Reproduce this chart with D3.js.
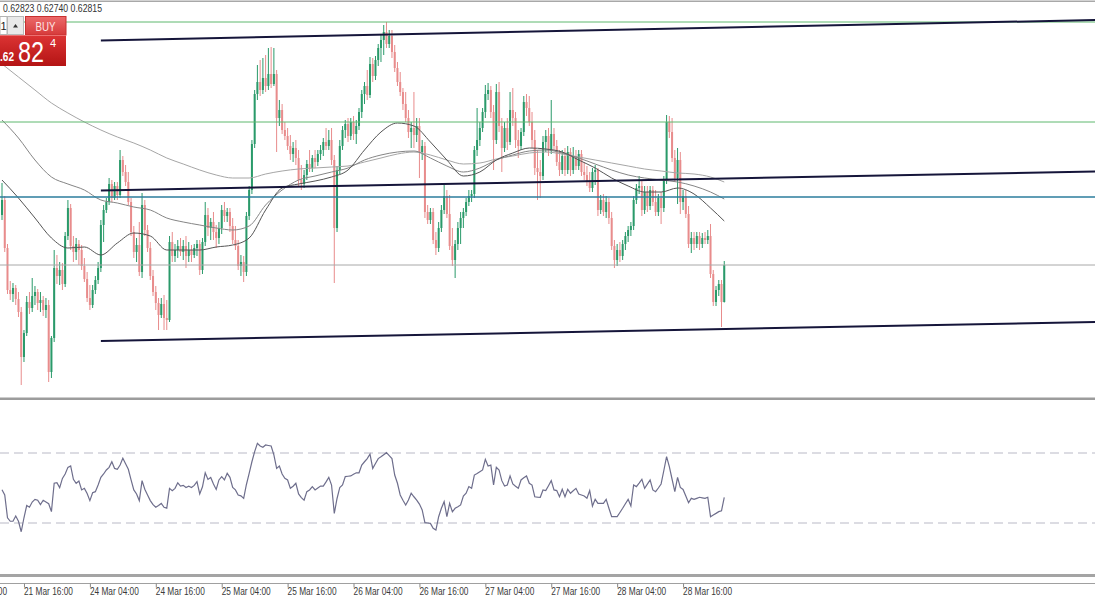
<!DOCTYPE html>
<html><head><meta charset="utf-8">
<script src="https://cdn.jsdelivr.net/npm/d3@7"></script>
<style>html,body{margin:0;padding:0;background:#fff;overflow:hidden}svg{display:block;font-family:"Liberation Sans",Arial,sans-serif}</style>
</head><body>
<svg id="chart" width="1095" height="600"></svg>
<script>
// ---------------- DATA (AUDUSD M30) ----------------
const candleOpen = [
0.62915,0.62945,0.62849,0.62765,0.62757,0.62769,0.62747,0.62721,0.62631,0.62679,0.62741,0.62729,
0.62753,0.62761,0.62739,0.62745,0.62725,0.62735,0.62601,0.62669,0.62809,0.62793,0.62805,0.62777,
0.62873,0.62929,0.62853,0.62841,0.62857,0.62845,0.62813,0.62787,0.62749,0.62735,0.62765,0.62785,
0.62809,0.62895,0.62925,0.62941,0.62977,0.62949,0.62973,0.62955,0.63025,0.63001,0.62981,0.62941,
0.62881,0.62841,0.62855,0.62801,0.62935,0.62885,0.62849,0.62793,0.62761,0.62739,0.62715,0.62737,
0.62709,0.62705,0.62861,0.62833,0.62845,0.62853,0.62841,0.62853,0.62833,0.62845,0.62835,0.62849,
0.62857,0.62805,0.62861,0.62915,0.62889,0.62901,0.62881,0.62869,0.62889,0.62925,0.62913,0.62921,
0.62893,0.62865,0.62853,0.62813,0.62821,0.62801,0.62913,0.62965,0.63057,0.63157,0.63181,0.63165,
0.63189,0.63173,0.63197,0.63177,0.63197,0.63109,0.63125,0.63085,0.63073,0.63053,0.63037,0.63049,
0.63029,0.62985,0.62977,0.62995,0.63017,0.63009,0.63029,0.63021,0.63037,0.63045,0.63061,0.63053,
0.63065,0.63025,0.62889,0.63005,0.63053,0.63085,0.63097,0.63073,0.63101,0.63077,0.63093,0.63121,
0.63157,0.63173,0.63155,0.63217,0.63193,0.63225,0.63249,0.63265,0.63281,0.63257,0.63273,0.63241,
0.63209,0.63181,0.63161,0.63137,0.63109,0.63081,0.63089,0.63075,0.63093,0.63041,0.63053,0.62921,
0.62905,0.62921,0.62865,0.62849,0.62889,0.62925,0.62953,0.62917,0.62853,0.62825,0.62857,0.62889,
0.62909,0.62921,0.62941,0.62953,0.62957,0.63045,0.63065,0.63089,0.63121,0.63157,0.63165,0.63121,
0.63065,0.63161,0.63093,0.63049,0.63089,0.63061,0.63125,0.63109,0.63065,0.63053,0.63081,0.63141,
0.63129,0.63101,0.63065,0.63009,0.63001,0.62993,0.63061,0.63073,0.63045,0.63077,0.63053,0.63021,
0.63005,0.63033,0.63005,0.63041,0.63005,0.63033,0.63013,0.63037,0.63001,0.62995,0.62981,0.62969,
0.63001,0.63005,0.62925,0.62945,0.62921,0.62941,0.62909,0.62853,0.62825,0.62845,0.62833,0.62857,
0.62873,0.62885,0.62893,0.62945,0.62969,0.62973,0.62925,0.62961,0.62933,0.62965,0.62941,0.62921,
0.62949,0.62929,0.62985,0.63101,0.63081,0.63029,0.62989,0.63025,0.62941,0.62953,0.62917,0.62857,
0.62869,0.62857,0.62873,0.62857,0.62869,0.62865,0.62873,0.62797,0.62741,0.62765,0.62777,0.62741];
const candleHigh = [
0.62979,0.62953,0.62857,0.62783,0.62779,0.62775,0.62761,0.62731,0.62685,0.62753,0.62761,0.62789,
0.62773,0.62767,0.62761,0.62753,0.62749,0.62745,0.62673,0.62845,0.62835,0.62821,0.62819,0.62881,
0.62945,0.62937,0.62873,0.62869,0.62865,0.62855,0.62829,0.62801,0.62775,0.62775,0.62793,0.62821,
0.62905,0.62935,0.62949,0.62989,0.62985,0.62981,0.62981,0.63045,0.63033,0.63015,0.63001,0.62949,
0.62893,0.62869,0.62901,0.62959,0.62945,0.62895,0.62861,0.62805,0.62773,0.62749,0.62749,0.62755,
0.62745,0.62873,0.62881,0.62857,0.62865,0.62869,0.62865,0.62873,0.62861,0.62855,0.62857,0.62865,
0.62865,0.62869,0.62941,0.62929,0.62909,0.62921,0.62895,0.62901,0.62935,0.62941,0.62929,0.62929,
0.62909,0.62893,0.62865,0.62835,0.62833,0.62921,0.62973,0.63065,0.63165,0.63215,0.63225,0.63229,
0.63235,0.63249,0.63251,0.63249,0.63205,0.63145,0.63137,0.63101,0.63089,0.63075,0.63061,0.63065,
0.63045,0.63015,0.63005,0.63025,0.63045,0.63035,0.63045,0.63045,0.63055,0.63069,0.63089,0.63085,
0.63089,0.63035,0.63013,0.63065,0.63093,0.63105,0.63109,0.63109,0.63113,0.63105,0.63129,0.63165,
0.63181,0.63205,0.63231,0.63229,0.63233,0.63257,0.63277,0.63295,0.63301,0.63285,0.63285,0.63255,
0.63221,0.63201,0.63169,0.63161,0.63125,0.63101,0.63161,0.63109,0.63109,0.63065,0.63061,0.62935,
0.62929,0.62929,0.62881,0.62901,0.62935,0.62975,0.62965,0.62955,0.62889,0.62865,0.62901,0.62921,
0.62929,0.62949,0.62965,0.62965,0.63053,0.63129,0.63101,0.63129,0.63175,0.63179,0.63173,0.63135,
0.63177,0.63181,0.63109,0.63101,0.63109,0.63161,0.63169,0.63121,0.63085,0.63089,0.63153,0.63157,
0.63153,0.63121,0.63085,0.63045,0.63025,0.63073,0.63085,0.63089,0.63145,0.63089,0.63065,0.63045,
0.63045,0.63049,0.63053,0.63049,0.63051,0.63045,0.63045,0.63045,0.63021,0.63013,0.63001,0.63009,
0.63015,0.63009,0.62955,0.62957,0.62953,0.62949,0.62921,0.62865,0.62857,0.62861,0.62865,0.62881,
0.62893,0.62901,0.62953,0.62977,0.62993,0.62985,0.62973,0.62973,0.62973,0.62973,0.62965,0.62957,
0.62961,0.62993,0.63115,0.63113,0.63109,0.63045,0.63049,0.63041,0.62965,0.62965,0.62933,0.62881,
0.62881,0.62881,0.62881,0.62879,0.62881,0.62885,0.62897,0.62805,0.62773,0.62785,0.62785,0.62823];
const candleLow = [
0.62905,0.62841,0.62757,0.62745,0.62741,0.62735,0.62711,0.62575,0.62621,0.62673,0.62717,0.62721,
0.62735,0.62725,0.62721,0.62713,0.62709,0.62581,0.62589,0.62661,0.62777,0.62775,0.62765,0.62771,
0.62865,0.62845,0.62821,0.62825,0.62815,0.62805,0.62781,0.62741,0.62725,0.62729,0.62757,0.62777,
0.62801,0.62861,0.62919,0.62935,0.62941,0.62945,0.62945,0.62949,0.62993,0.62973,0.62935,0.62873,
0.62829,0.62821,0.62793,0.62789,0.62873,0.62841,0.62785,0.62753,0.62725,0.62685,0.62709,0.62685,
0.62685,0.62701,0.62821,0.62821,0.62829,0.62833,0.62825,0.62809,0.62821,0.62821,0.62829,0.62833,
0.62795,0.62797,0.62853,0.62873,0.62865,0.62865,0.62849,0.62857,0.62877,0.62901,0.62901,0.62881,
0.62857,0.62845,0.62805,0.62793,0.62781,0.62793,0.62905,0.62957,0.63049,0.63145,0.63153,0.63157,
0.63161,0.63165,0.63169,0.63173,0.63041,0.63093,0.63077,0.63065,0.63045,0.63025,0.63021,0.63015,
0.62973,0.62965,0.62969,0.62985,0.63001,0.63001,0.63009,0.63013,0.63025,0.63033,0.63045,0.63045,
0.63015,0.62779,0.62881,0.62997,0.63045,0.63069,0.63061,0.63065,0.63065,0.63057,0.63085,0.63109,
0.63137,0.63145,0.63149,0.63181,0.63185,0.63213,0.63221,0.63235,0.63249,0.63249,0.63229,0.63201,
0.63173,0.63153,0.63125,0.63101,0.63069,0.63049,0.63049,0.63061,0.62989,0.63025,0.62909,0.62897,
0.62897,0.62857,0.62835,0.62841,0.62881,0.62917,0.62909,0.62845,0.62813,0.62789,0.62845,0.62857,
0.62889,0.62913,0.62933,0.62941,0.62949,0.63033,0.63053,0.63081,0.63109,0.63145,0.63109,0.63005,
0.63057,0.63081,0.63001,0.63041,0.63045,0.63055,0.63093,0.63049,0.63029,0.63045,0.63073,0.63113,
0.63093,0.63049,0.62995,0.62945,0.62949,0.62985,0.63041,0.63033,0.63037,0.63045,0.63013,0.62993,
0.62997,0.62993,0.62997,0.62993,0.62997,0.63005,0.63005,0.62993,0.62985,0.62973,0.62961,0.62961,
0.62975,0.62913,0.62917,0.62913,0.62909,0.62897,0.62845,0.62809,0.62813,0.62821,0.62825,0.62845,
0.62861,0.62873,0.62885,0.62937,0.62957,0.62913,0.62917,0.62921,0.62925,0.62933,0.62913,0.62913,
0.62897,0.62921,0.62977,0.63069,0.63021,0.62981,0.62937,0.62917,0.62925,0.62909,0.62849,0.62839,
0.62845,0.62849,0.62845,0.62849,0.62857,0.62857,0.62789,0.62733,0.62733,0.62753,0.62691,0.62740];
const candleClose = [
0.62945,0.62849,0.62765,0.62757,0.62769,0.62747,0.62721,0.62631,0.62679,0.62741,0.62729,0.62753,
0.62761,0.62739,0.62745,0.62725,0.62735,0.62601,0.62669,0.62809,0.62793,0.62805,0.62777,0.62873,
0.62929,0.62853,0.62841,0.62857,0.62845,0.62813,0.62787,0.62749,0.62735,0.62765,0.62785,0.62809,
0.62895,0.62925,0.62941,0.62977,0.62949,0.62973,0.62955,0.63025,0.63001,0.62981,0.62941,0.62881,
0.62841,0.62855,0.62801,0.62935,0.62885,0.62849,0.62793,0.62761,0.62739,0.62715,0.62737,0.62709,
0.62705,0.62861,0.62833,0.62845,0.62853,0.62841,0.62853,0.62833,0.62845,0.62835,0.62849,0.62857,
0.62805,0.62861,0.62915,0.62889,0.62901,0.62881,0.62869,0.62889,0.62925,0.62913,0.62921,0.62893,
0.62865,0.62853,0.62813,0.62821,0.62801,0.62913,0.62965,0.63057,0.63157,0.63181,0.63165,0.63189,
0.63173,0.63197,0.63177,0.63197,0.63109,0.63125,0.63085,0.63073,0.63053,0.63037,0.63049,0.63029,
0.62985,0.62977,0.62995,0.63017,0.63009,0.63029,0.63021,0.63037,0.63045,0.63061,0.63053,0.63065,
0.63025,0.62889,0.63005,0.63053,0.63085,0.63097,0.63073,0.63101,0.63077,0.63093,0.63121,0.63157,
0.63173,0.63155,0.63217,0.63193,0.63225,0.63249,0.63265,0.63281,0.63257,0.63273,0.63241,0.63209,
0.63181,0.63161,0.63137,0.63109,0.63081,0.63089,0.63075,0.63093,0.63041,0.63053,0.62921,0.62905,
0.62921,0.62865,0.62849,0.62889,0.62925,0.62953,0.62917,0.62853,0.62825,0.62857,0.62889,0.62909,
0.62921,0.62941,0.62953,0.62957,0.63045,0.63065,0.63089,0.63121,0.63157,0.63165,0.63121,0.63065,
0.63161,0.63093,0.63049,0.63089,0.63061,0.63125,0.63109,0.63065,0.63053,0.63081,0.63141,0.63129,
0.63101,0.63065,0.63009,0.63001,0.62993,0.63061,0.63073,0.63045,0.63077,0.63053,0.63021,0.63005,
0.63033,0.63005,0.63041,0.63005,0.63033,0.63013,0.63037,0.63001,0.62995,0.62981,0.62969,0.63001,
0.63005,0.62925,0.62945,0.62921,0.62941,0.62909,0.62853,0.62825,0.62845,0.62833,0.62857,0.62873,
0.62885,0.62893,0.62945,0.62969,0.62973,0.62925,0.62961,0.62933,0.62965,0.62941,0.62921,0.62949,
0.62929,0.62985,0.63101,0.63081,0.63029,0.62989,0.63025,0.62941,0.62953,0.62917,0.62857,0.62869,
0.62857,0.62873,0.62857,0.62869,0.62865,0.62873,0.62797,0.62741,0.62765,0.62777,0.62741,0.62815];

const rsiValues = [
49,46,33,31,31,34,31,25,33,40,39,42,
43.5,43,40.5,43,42,41,36.5,52.7,53,50.2,55.5,58,
61.8,62.6,55,52.7,54,48.9,49.8,46.9,42.8,47.3,47.9,51.7,
56.1,58,60.3,61.8,65,61.2,60.7,63.1,67,63.8,60.7,54.6,
48.9,46.6,42.8,54.2,49.3,46,42.8,40.5,39,40,41.2,39,
38.5,49.8,48.5,49.8,53,51.1,51.5,50.3,51,50.3,51.5,53.6,
46.6,50.7,58.7,54.9,56,52.3,49.2,54.6,56.5,54.6,58.4,56.1,
50.3,48.9,46,45.5,44.1,52,58.4,65,70.8,75.5,74,73.3,
74.6,74.3,74,68.9,61.2,62.6,58,55.5,54.6,49.8,51,52.7,
46.6,44.5,43.1,47.9,48.9,50.8,48.9,50,51.1,51.1,53.5,56.1,
51.7,35.5,44,50.3,51.7,56.5,56.7,56.9,57.8,58.7,58.7,63.1,
65,66.8,69.4,61.2,64,66.8,67.8,69,70.2,68.5,66.8,57.4,
52.7,46,43,40.3,43.1,47,45,43.1,40.8,37.5,30.2,30,
29.8,27,26,33.6,38.4,42.2,33.6,41.2,36.4,38.4,39.3,40.3,
45.4,47,50.8,49.8,57.4,58.3,59.3,60.3,66.4,62.6,63.1,51.7,
61.8,60.3,54.2,51.1,51.7,56.9,52.3,51,49.8,54.6,55.8,56.9,
52.7,51.7,45,44.8,44.7,48.9,48.5,51.3,54.2,48.9,48.5,45,
49.3,45,49.3,47,48.4,49.8,46.6,46,45.4,44.1,48.5,39.7,
43.5,41.2,41.2,41.2,43.5,38.4,33.6,33.6,33.6,36,38.4,41,
43.5,39.7,51.7,50.8,52.8,54.9,49.8,52.2,54.6,48.9,47.9,50,
52.3,60,67.9,62.2,55,47.9,56.1,50.3,49.2,45.4,41.6,44.1,
43.5,44.1,44.7,44.4,44.1,44.7,33.6,34.6,35.5,36.5,37,44.7];
const rsiLevels = [70, 30];

// moving averages, read every 6 bars
const maIndex = [0,6,12,18,24,30,36,42,48,54,60,66,72,78,84,90,96,102,108,114,120,126,132,138,144,150,156,162,168,174,180,186,192,198,204,210,216,222,228,234,240,246,252,258,263];
const maSlow = [0.63217,0.63191,0.63165,0.63139,0.63119,0.63101,0.63085,0.63071,0.63059,0.63045,0.63029,0.63017,0.63005,0.62995,0.62989,0.62989,0.62997,0.63003,0.63007,0.63009,0.63011,0.63013,0.63021,0.63029,0.63037,0.63041,0.63035,0.63025,0.63017,0.63019,0.63027,0.63033,0.63039,0.63041,0.63037,0.63031,0.63025,0.63019,0.63013,0.63007,0.63003,0.62999,0.62997,0.62991,0.62981];
const maMid = [0.63105,0.63069,0.63025,0.62991,0.62977,0.62965,0.62945,0.62939,0.62931,0.62925,0.62909,0.62901,0.62895,0.62889,0.62885,0.62893,0.62935,0.62965,0.62985,0.62993,0.63001,0.63009,0.63025,0.63035,0.63041,0.63043,0.63029,0.63013,0.63001,0.63009,0.63025,0.63035,0.63043,0.63045,0.63039,0.63029,0.63017,0.63005,0.62995,0.62989,0.62985,0.62981,0.62973,0.62961,0.62947];
const maFast = [0.62985,0.62949,0.62909,0.62869,0.62849,0.62851,0.62835,0.62859,0.62879,0.62873,0.62845,0.62845,0.62845,0.62851,0.62855,0.62869,0.62925,0.62969,0.62977,0.62983,0.62991,0.63005,0.63045,0.63081,0.63099,0.63093,0.63061,0.63025,0.62993,0.63001,0.63025,0.63039,0.63049,0.63047,0.63041,0.63025,0.63009,0.62989,0.62973,0.62961,0.62961,0.62969,0.62957,0.62929,0.62903];

const levelPrices = [0.63301, 0.63101, 0.62951];
const bidPrice = 0.62815;
const trendStartIndex = 36, trendEndIndex = 398;
const trendStartPrices = [0.63264, 0.62964, 0.62663];
const trendEndPrices = [0.63305, 0.63002, 0.62701];

const timeTickIndex = [-16, 8, 32, 56, 80, 104, 128, 152, 176, 200, 224, 248];
const timeTickLabels = ["21 Mar 04:00","21 Mar 16:00","24 Mar 04:00","24 Mar 16:00","25 Mar 04:00","25 Mar 16:00","26 Mar 04:00","26 Mar 16:00","27 Mar 04:00","27 Mar 16:00","28 Mar 04:00","28 Mar 16:00"];
const headerValues = ["0.62823","0.62740","0.62815"];
const quoteParts = [".62", "82", "4"];
const lotText = "1";

// ---------------- DRAW ----------------
const W = 1095, H = 600;
const svg = d3.select('#chart');
const x = d3.scaleLinear().domain([0, 398]).range([2, 1095]);
const y = d3.scaleLinear().domain([0.62575, 0.63305]).range([385, 20]);
const yr = d3.scaleLinear().domain([0, 100]).range([575.5, 400.5]);

const GREEN = '#2a9a6a', RED = '#e88c8c';
const defs = svg.append('defs');
defs.append('clipPath').attr('id','mainClip').append('rect').attr('x',0).attr('y',3).attr('width',W).attr('height',394);
defs.append('clipPath').attr('id','rsiClip').append('rect').attr('x',0).attr('y',401).attr('width',W).attr('height',172);
const g1 = defs.append('linearGradient').attr('id','buyGrad').attr('x1',0).attr('y1',0).attr('x2',0).attr('y2',1);
g1.append('stop').attr('offset','0%').attr('stop-color','#ec6a6a');
g1.append('stop').attr('offset','100%').attr('stop-color','#d63a3a');
const g2 = defs.append('linearGradient').attr('id','priceGrad').attr('x1',0).attr('y1',0).attr('x2',0).attr('y2',1);
g2.append('stop').attr('offset','0%').attr('stop-color','#dc3434');
g2.append('stop').attr('offset','100%').attr('stop-color','#b41414');

svg.append('rect').attr('width',W).attr('height',H).attr('fill','#fff');

// frame / separators
svg.append('rect').attr('x',0).attr('y',0.5).attr('width',W).attr('height',1.5).attr('fill','#a8a8a8');
svg.append('rect').attr('x',0).attr('y',397.5).attr('width',W).attr('height',2.5).attr('fill','#9c9c9c');
svg.append('rect').attr('x',0).attr('y',574).attr('width',W).attr('height',3).attr('fill','#a4a4a4');
svg.append('line').attr('x1',0).attr('x2',W).attr('y1',583.5).attr('y2',583.5).attr('stroke','#a0a0a0');

const candles = candleClose.map((c,i)=>({i, o:candleOpen[i], h:candleHigh[i], l:candleLow[i], c}));
const main = svg.append('g').attr('clip-path','url(#mainClip)');

main.append('g').selectAll('line').data(candles).join('line')
  .attr('x1', d=>x(d.i)).attr('x2', d=>x(d.i))
  .attr('y1', d=>y(d.h)).attr('y2', d=>y(d.l))
  .attr('stroke', d=> d.c >= d.o ? GREEN : RED).attr('stroke-width',1);
main.append('g').selectAll('rect').data(candles).join('rect')
  .attr('x', d=>x(d.i)-1).attr('width',2)
  .attr('y', d=>y(Math.max(d.o,d.c)))
  .attr('height', d=>Math.max(1, Math.abs(y(d.o)-y(d.c))))
  .attr('fill', d=> d.c >= d.o ? GREEN : RED);

// moving averages
const maLine = (arr)=> d3.line().x((d,k)=>x(maIndex[k])).y(d=>y(d)).curve(d3.curveMonotoneX)(arr);
[[maSlow,'#a6a6a6'],[maMid,'#858585'],[maFast,'#555555']].forEach(([arr,col])=>{
  main.append('path').attr('d', maLine(arr)).attr('fill','none').attr('stroke',col).attr('stroke-width',1);
});

// horizontal levels
const levelColors = ['#5fb86e','#5fb86e','#2b7d9c'];
const levelWidths = [1,1,1.5];
levelPrices.forEach((p,k)=>{
  main.append('line').attr('x1',0).attr('x2',W).attr('y1',y(p)).attr('y2',y(p))
    .attr('stroke',levelColors[k]).attr('stroke-width',levelWidths[k]);
});
main.append('line').attr('x1',0).attr('x2',W).attr('y1',y(bidPrice)).attr('y2',y(bidPrice))
  .attr('stroke','#a8a8a8').attr('stroke-width',1);

// trend channel
trendStartPrices.forEach((p,k)=>{
  main.append('line').attr('x1',x(trendStartIndex)).attr('y1',y(p))
    .attr('x2',x(trendEndIndex)).attr('y2',y(trendEndPrices[k]))
    .attr('stroke','#15153a').attr('stroke-width',2);
});

// RSI pane
const rsiG = svg.append('g').attr('clip-path','url(#rsiClip)');
rsiLevels.forEach(v=>{
  rsiG.append('line').attr('x1',0).attr('x2',W).attr('y1',yr(v)).attr('y2',yr(v))
    .attr('stroke','#b9b9c6').attr('stroke-width',1).attr('stroke-dasharray','9,5');
});
rsiG.append('path')
  .attr('d', d3.line().x((d,i)=>x(i)).y(d=>yr(d))(rsiValues))
  .attr('fill','none').attr('stroke','#6e6e8c').attr('stroke-width',1.2);

// time axis
const axis = d3.axisBottom(x).tickValues(timeTickIndex)
  .tickFormat((d,k)=>timeTickLabels[k]).tickSize(4).tickSizeOuter(0);
const ag = svg.append('g').attr('transform','translate(0,583.5)').call(axis);
ag.select('.domain').remove();
ag.selectAll('.tick line').attr('stroke','#888');
ag.selectAll('.tick text').attr('text-anchor','start').attr('x',-0.5).attr('y',11.5).attr('dy',0)
  .attr('font-size',10).attr('font-family','"Liberation Sans",Arial,sans-serif').attr('fill','#3a3a3a')
  .attr('textLength',49).attr('lengthAdjust','spacingAndGlyphs');

// header values
svg.append('text').attr('x',3).attr('y',12).attr('font-size',11).attr('fill','#333')
  .attr('textLength',99).attr('lengthAdjust','spacingAndGlyphs').text(headerValues.join(' '));

// one-click trading widget
const wdg = svg.append('g');
wdg.append('rect').attr('x',0).attr('y',16.5).attr('width',7).attr('height',18).attr('fill','#fff').attr('stroke','#b4b4b4');
wdg.append('text').attr('x',0.5).attr('y',30).attr('font-size',11).attr('fill','#222').text(lotText);
wdg.append('rect').attr('x',7.5).attr('y',16.5).attr('width',16).attr('height',18).attr('fill','#e9e9e9').attr('stroke','#b9b9b9');
wdg.append('path').attr('d','M13,27.5 L15.5,24 L18,27.5 Z').attr('fill','#333');
wdg.append('rect').attr('x',25.5).attr('y',16.5).attr('width',40.5).attr('height',18.5).attr('fill','url(#buyGrad)').attr('stroke','#c83030');
wdg.append('text').attr('x',45.5).attr('y',30.5).attr('text-anchor','middle').attr('font-size',12.5)
  .attr('fill','#fde6e6').attr('textLength',20).attr('lengthAdjust','spacingAndGlyphs').text('BUY');
wdg.append('rect').attr('x',0).attr('y',35).attr('width',66).attr('height',31).attr('fill','url(#priceGrad)');
wdg.append('line').attr('x1',0).attr('x2',66).attr('y1',35.5).attr('y2',35.5).attr('stroke','#f08080').attr('stroke-width',0.8);
wdg.append('text').attr('x',0).attr('y',60.5).attr('font-size',13).attr('font-weight','bold').attr('fill','#fff')
  .attr('textLength',14).attr('lengthAdjust','spacingAndGlyphs').text(quoteParts[0]);
wdg.append('text').attr('x',18).attr('y',62).attr('font-size',30).attr('fill','#fff')
  .attr('textLength',26).attr('lengthAdjust','spacingAndGlyphs').text(quoteParts[1]);
wdg.append('text').attr('x',50).attr('y',47).attr('font-size',11).attr('fill','#fff').text(quoteParts[2]);
</script>
</body></html>
